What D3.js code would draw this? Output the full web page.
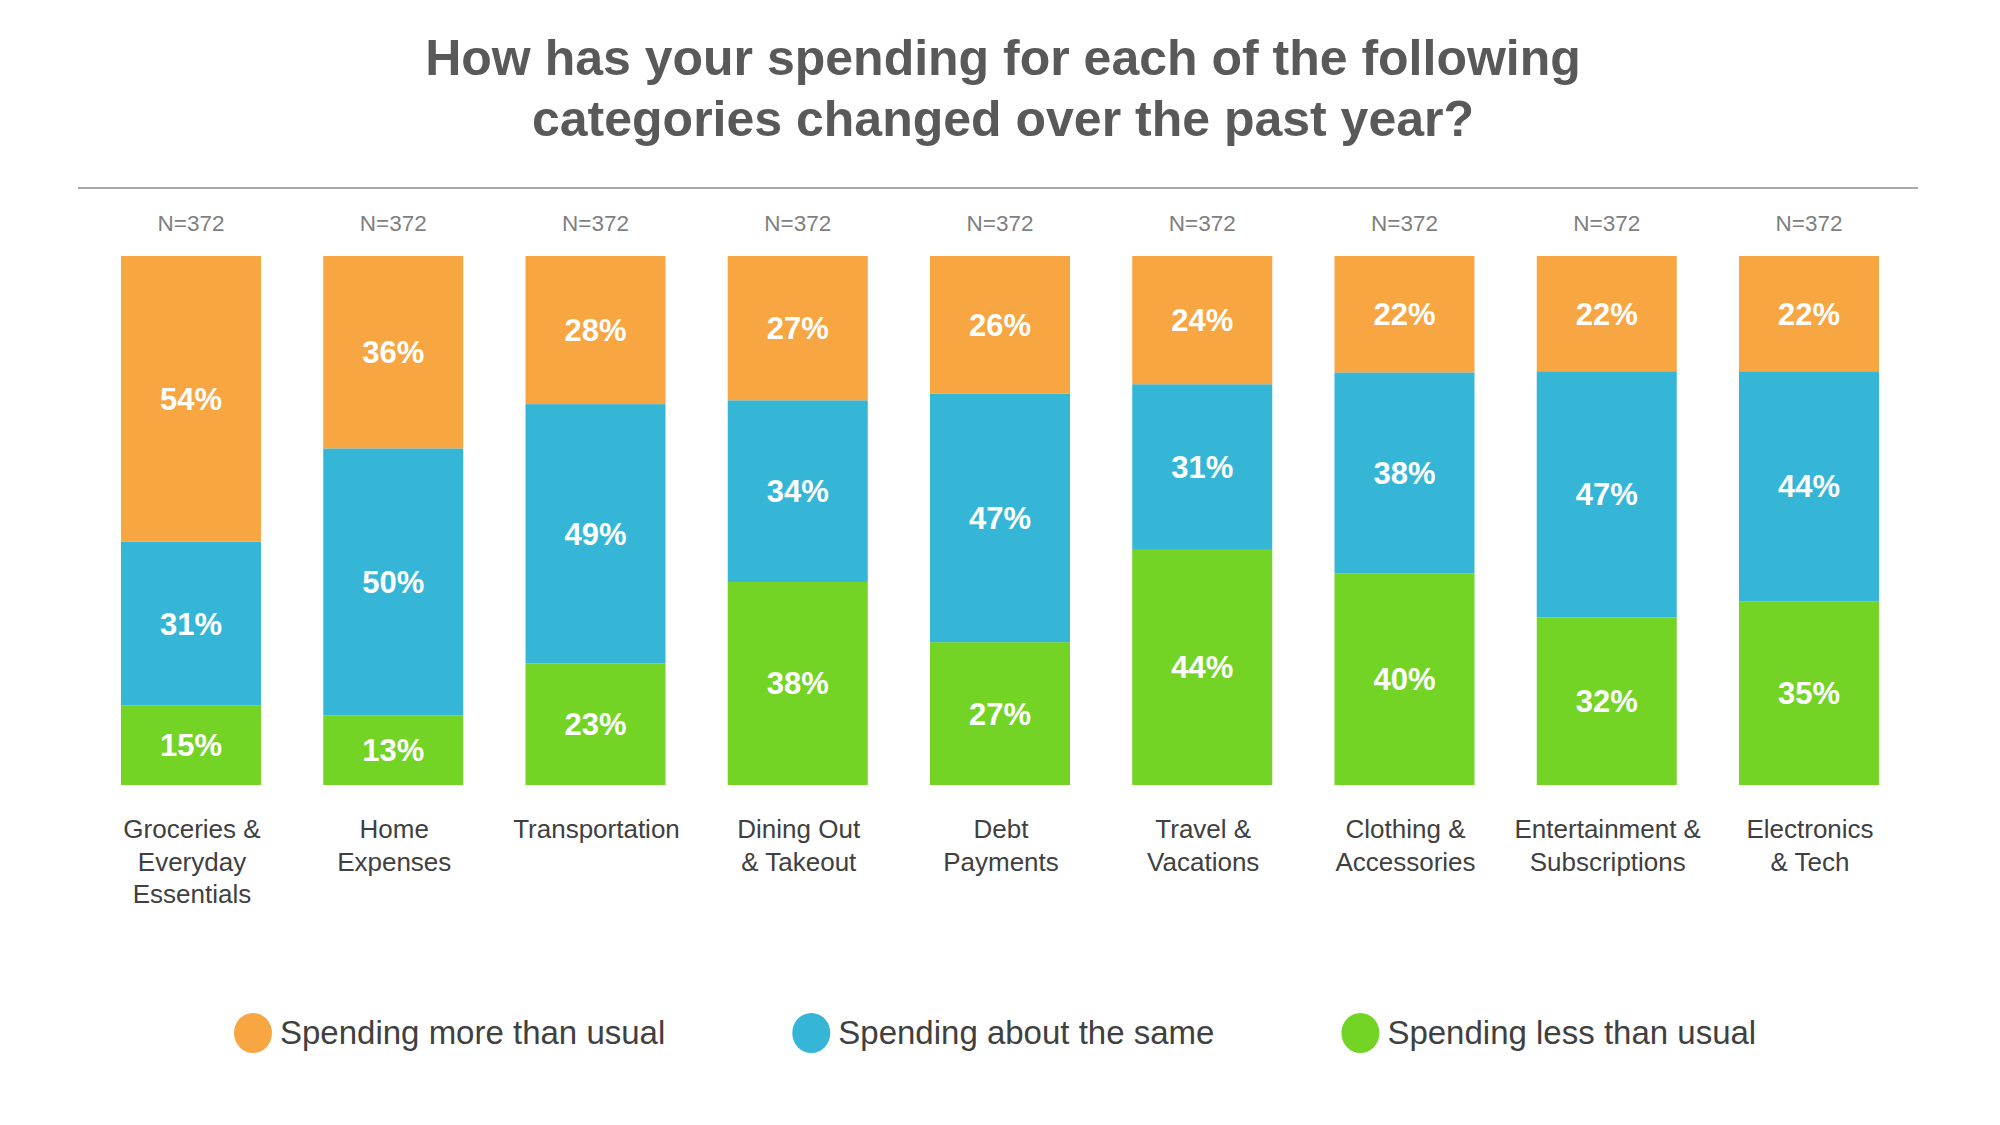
<!DOCTYPE html>
<html>
<head>
<meta charset="utf-8">
<script src="https://cdn.jsdelivr.net/npm/d3@7"></script>
<style>
  html, body { margin: 0; padding: 0; background: #ffffff; }
  svg { display: block; font-family: Arial, "Liberation Sans", Helvetica, sans-serif; }
</style>
</head>
<body>
<div id="chart"></div>
<script>
// chart data
var categories = [
  "Groceries & Everyday Essentials",
  "Home Expenses",
  "Transportation",
  "Dining Out & Takeout",
  "Debt Payments",
  "Travel & Vacations",
  "Clothing & Accessories",
  "Entertainment & Subscriptions",
  "Electronics & Tech"
];
// how each category label wraps
var categoryLines = [
  ["Groceries &", "Everyday", "Essentials"],
  ["Home", "Expenses"],
  ["Transportation"],
  ["Dining Out", "& Takeout"],
  ["Debt", "Payments"],
  ["Travel &", "Vacations"],
  ["Clothing &", "Accessories"],
  ["Entertainment &", "Subscriptions"],
  ["Electronics", "& Tech"]
];
var sampleSizes = [372, 372, 372, 372, 372, 372, 372, 372, 372];
var spendingMore = [54, 36, 28, 27, 26, 24, 22, 22, 22];
var spendingSame = [31, 50, 49, 34, 47, 31, 38, 47, 44];
var spendingLess = [15, 13, 23, 38, 27, 44, 40, 32, 35];

var seriesKeys = ["more", "same", "less"];
var seriesNames = ["Spending more than usual", "Spending about the same", "Spending less than usual"];
var seriesColors = ["#F7A642", "#36B6D7", "#73D425"];

var titleLines = [
  "How has your spending for each of the following",
  "categories changed over the past year?"
];

var width = 2000, height = 1125;

var svg = d3.select("#chart").append("svg")
    .attr("width", width)
    .attr("height", height);

// title
svg.append("g").selectAll("text")
    .data(titleLines)
    .enter().append("text")
    .attr("x", 1003)
    .attr("y", function(d, i) { return 75 + i * 61; })
    .attr("text-anchor", "middle")
    .style("font-size", "50px")
    .style("font-weight", "bold")
    .style("fill", "#595959")
    .text(function(d) { return d; });

// rule under the title
svg.append("line")
    .attr("x1", 78).attr("x2", 1918)
    .attr("y1", 188).attr("y2", 188)
    .style("stroke", "#8c8c8c")
    .style("stroke-width", 1.5);

// rows for the stack
var rows = categories.map(function(c, i) {
  return { cat: c, more: spendingMore[i], same: spendingSame[i], less: spendingLess[i] };
});

// stack bottom-up: less, same, more
var stack = d3.stack()
    .keys(["less", "same", "more"])
    .offset(d3.stackOffsetExpand);
var layers = stack(rows);

var x = d3.scaleBand()
    .domain(categories)
    .range([121, 1879])
    .paddingInner(0.3078)
    .paddingOuter(0);

var y = d3.scaleLinear()
    .domain([0, 1])
    .range([785, 256]);

var color = d3.scaleOrdinal().domain(seriesKeys).range(seriesColors);

var layerG = svg.append("g").selectAll("g")
    .data(layers)
    .enter().append("g")
    .style("fill", function(d) { return color(d.key); });

layerG.selectAll("rect")
    .data(function(d) { return d; })
    .enter().append("rect")
    .attr("x", function(d) { return x(d.data.cat); })
    .attr("y", function(d) { return y(d[1]); })
    .attr("width", x.bandwidth())
    .attr("height", function(d) { return y(d[0]) - y(d[1]); });

// value labels
layerG.selectAll("text")
    .data(function(layer) {
      return layer.map(function(d) { return { seg: d, key: layer.key }; });
    })
    .enter().append("text")
    .attr("x", function(d) { return x(d.seg.data.cat) + x.bandwidth() / 2; })
    .attr("y", function(d) { return (y(d.seg[0]) + y(d.seg[1])) / 2 + 11; })
    .attr("text-anchor", "middle")
    .style("font-size", "31px")
    .style("font-weight", "bold")
    .style("fill", "#ffffff")
    .text(function(d) { return d.seg.data[d.key] + "%"; });

// N= labels
svg.append("g").selectAll("text")
    .data(categories)
    .enter().append("text")
    .attr("x", function(d) { return x(d) + x.bandwidth() / 2; })
    .attr("y", 231)
    .attr("text-anchor", "middle")
    .style("font-size", "22.5px")
    .style("fill", "#7f7f7f")
    .text(function(d, i) { return "N=" + sampleSizes[i]; });

// category labels
var catG = svg.append("g").selectAll("text")
    .data(categories)
    .enter().append("text")
    .attr("text-anchor", "middle")
    .style("font-size", "26px")
    .style("fill", "#404040");

catG.selectAll("tspan")
    .data(function(d, i) {
      return categoryLines[i].map(function(l) { return { line: l, cat: d }; });
    })
    .enter().append("tspan")
    .attr("x", function(d) { return x(d.cat) + x.bandwidth() / 2 + 1; })
    .attr("y", function(d, j) { return 838 + j * 32.5; })
    .text(function(d) { return d.line; });

// legend
var legend = svg.append("g");
var legendX = 234, legendY = 1033, r = 20, gap = 127;
seriesKeys.forEach(function(k, i) {
  var item = legend.append("g").attr("transform", "translate(" + legendX + "," + legendY + ")");
  item.append("ellipse")
      .attr("cx", r - 1).attr("cy", 0)
      .attr("rx", r - 1).attr("ry", r)
      .style("fill", color(k));
  var t = item.append("text")
      .attr("x", 2 * r + 6)
      .attr("y", 11)
      .style("font-size", "33px")
      .style("fill", "#404040")
      .text(seriesNames[i]);
  legendX += 2 * r + 6 + t.node().getComputedTextLength() + gap;
});
</script>
</body>
</html>
